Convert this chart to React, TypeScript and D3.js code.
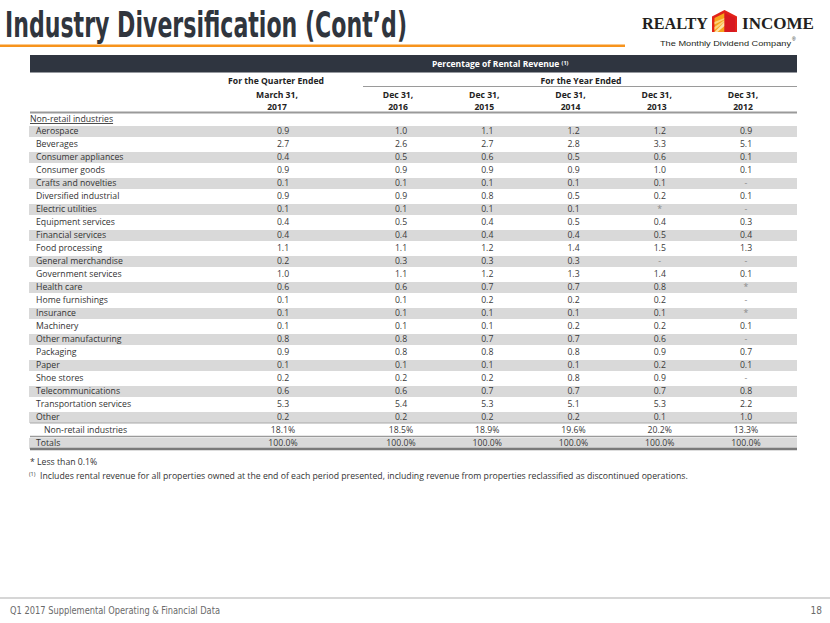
import React from "react";
import * as d3 from "d3";

const industries = [
  "Aerospace", "Beverages", "Consumer appliances", "Consumer goods", "Crafts and novelties",
  "Diversified industrial", "Electric utilities", "Equipment services", "Financial services",
  "Food processing", "General merchandise", "Government services", "Health care",
  "Home furnishings", "Insurance", "Machinery", "Other manufacturing", "Packaging", "Paper",
  "Shoe stores", "Telecommunications", "Transportation services", "Other",
];
const subtotalLabel = "Non-retail industries";
const totalLabel = "Totals";

const colQ1_2017 = ["0.9","2.7","0.4","0.9","0.1","0.9","0.1","0.4","0.4","1.1","0.2","1.0","0.6","0.1","0.1","0.1","0.8","0.9","0.1","0.2","0.6","5.3","0.2","18.1%","100.0%"];
const colY2016 = ["1.0","2.6","0.5","0.9","0.1","0.9","0.1","0.5","0.4","1.1","0.3","1.1","0.6","0.1","0.1","0.1","0.8","0.8","0.1","0.2","0.6","5.4","0.2","18.5%","100.0%"];
const colY2015 = ["1.1","2.7","0.6","0.9","0.1","0.8","0.1","0.4","0.4","1.2","0.3","1.2","0.7","0.2","0.1","0.1","0.7","0.8","0.1","0.2","0.7","5.3","0.2","18.9%","100.0%"];
const colY2014 = ["1.2","2.8","0.5","0.9","0.1","0.5","0.1","0.5","0.4","1.4","0.3","1.3","0.7","0.2","0.1","0.2","0.7","0.8","0.1","0.8","0.7","5.1","0.2","19.6%","100.0%"];
const colY2013 = ["1.2","3.3","0.6","1.0","0.1","0.2","*","0.4","0.5","1.5","-","1.4","0.8","0.2","0.1","0.2","0.6","0.9","0.2","0.9","0.7","5.3","0.1","20.2%","100.0%"];
const colY2012 = ["0.9","5.1","0.1","0.1","-","0.1","-","0.3","0.4","1.3","-","0.1","*","-","*","0.1","-","0.7","0.1","-","0.8","2.2","1.0","13.3%","100.0%"];

const yearHeaders = ["2016", "2015", "2014", "2013", "2012"];
const yearColumns = [colY2016, colY2015, colY2014, colY2013, colY2012];

const FONT = "'Open Sans', 'Noto Sans', sans-serif";
const FS = 8.7;

export default function App() {
  const rows = [...industries, subtotalLabel, totalLabel];
  const rowKeys = rows.map((r, i) => `${i}`);
  const yRow = d3.scaleBand<string>().domain(rowKeys).range([124.5, 449.5]).paddingInner(0);
  const xYear = d3.scalePoint<string>().domain(yearHeaders).range([401, 746]);
  const xQuarter = 283;
  const left = 30, right = 797;
  const cy = (i: number) => (yRow(`${i}`) as number) + yRow.bandwidth() / 2;

  const valueColor = "#3a3a3a";
  const dimColor = "#8a8a8a";

  return (
    <svg width={830} height={623} style={{ position: "absolute", left: 0, top: 0, background: "#fff" }} fontFamily={FONT}>
      <rect x={0} y={0} width={830} height={623} fill="#fff" />
      {/* Title */}
      <text x={5} y={37} fontFamily="'Liberation Sans Narrow', 'DejaVu Sans Condensed', sans-serif" fontWeight={700} fontSize={35} fill="#30353d" textLength={402} lengthAdjust="spacingAndGlyphs">
        Industry Diversification (Cont’d)
      </text>
      <rect x={0} y={44.5} width={625} height={2.5} fill="#f7941d" />

      {/* Logo */}
      <text x={642} y={28.5} fontFamily="'Liberation Serif', 'DejaVu Serif', serif" fontWeight={700} fontSize={17} fill="#231f20" textLength={66} lengthAdjust="spacingAndGlyphs">REALTY</text>
      <g>
        <polygon points="724.5,10 737,16.5 737,32 712,32 712,16.5" fill="#e2231a" />
        <polygon points="714.5,18 724.5,13 724.5,32 714.5,32" fill="#f7a21b" />
        <polygon points="714.5,32 724.5,22 724.5,26 717.5,32" fill="#fde2a6" />
        <polygon points="714.5,27 724.5,20 724.5,22 714.5,30" fill="#fcd27a" />
        <polygon points="714.5,22 724.5,18 724.5,19.5 714.5,24.5" fill="#fcd27a" />
        <polygon points="724.5,13 735,18 735,32 724.5,32" fill="#d71920" />
      </g>
      <text x={742} y={28.5} fontFamily="'Liberation Serif', 'DejaVu Serif', serif" fontWeight={700} fontSize={17} fill="#231f20" textLength={72} lengthAdjust="spacingAndGlyphs">INCOME</text>
      <text x={660} y={46} fontFamily="'Liberation Sans', Arial, sans-serif" fontSize={8} fill="#231f20" textLength={131} lengthAdjust="spacingAndGlyphs">The Monthly Dividend Company</text>
      <text x={792} y={41} fontFamily="'Liberation Sans', Arial, sans-serif" fontSize={5} fill="#231f20">®</text>

      {/* Header bar */}
      <rect x={left} y={55} width={right - left} height={17.5} fill="#2f3540" />
      <text x={432} y={67} fontSize={8.5} fontWeight={700} fill="#fff">
        Percentage of Rental Revenue <tspan fontSize={5.5} dy={-2.5}>(1)</tspan>
      </text>

      {/* Column group headers */}
      <text x={276} y={83.5} fontSize={8.6} fontWeight={700} fill="#222" textAnchor="middle">For the Quarter Ended</text>
      <text x={581} y={83.5} fontSize={8.6} fontWeight={700} fill="#222" textAnchor="middle">For the Year Ended</text>
      <line x1={363} x2={right} y1={86.5} y2={86.5} stroke="#9a9a9a" strokeWidth={1} />

      <text x={277} y={98} fontSize={8.6} fontWeight={700} fill="#222" textAnchor="middle">March 31,</text>
      <text x={277} y={110} fontSize={8.6} fontWeight={700} fill="#222" textAnchor="middle">2017</text>
      {yearHeaders.map((yr) => (
        <g key={yr}>
          <text x={(xYear(yr) as number) - 3} y={98} fontSize={8.6} fontWeight={700} fill="#222" textAnchor="middle">Dec 31,</text>
          <text x={(xYear(yr) as number) - 3} y={110} fontSize={8.6} fontWeight={700} fill="#222" textAnchor="middle">{yr}</text>
        </g>
      ))}
      <line x1={left} x2={right} y1={112.5} y2={112.5} stroke="#9a9a9a" strokeWidth={2} />

      <text x={left} y={122} fontSize={FS} fill="#333" textDecoration="underline">Non-retail industries</text>

      {/* Row bands */}
      {rows.map((r, i) => (i % 2 === 0 ? (
        <rect key={`b${i}`} x={left - 1} y={cy(i) - 5} width={right - left + 1} height={11} fill="#d9d9d9" />
      ) : null))}

      {/* Row lines */}
      <line x1={left} x2={right} y1={423} y2={423} stroke="#a8a8a8" strokeWidth={1} />
      <line x1={left} x2={right} y1={436.5} y2={436.5} stroke="#9a9a9a" strokeWidth={1.5} />
      <line x1={left} x2={right} y1={449} y2={449} stroke="#7a7a7a" strokeWidth={2.5} />

      {/* Row labels */}
      {rows.map((r, i) => (
        <text key={`l${i}`} x={i === industries.length ? 44 : 36} y={cy(i) + 3} fontSize={FS} fill="#333">{r}</text>
      ))}

      {/* Values */}
      {colQ1_2017.map((v, i) => (
        <text key={`q${i}`} x={xQuarter} y={cy(i) + 3} fontSize={FS} fill={v === "-" || v === "*" ? dimColor : valueColor} textAnchor="middle">{v}</text>
      ))}
      {yearColumns.map((col, c) => col.map((v, i) => (
        <text key={`v${c}-${i}`} x={xYear(yearHeaders[c]) as number} y={cy(i) + 3} fontSize={FS} fill={v === "-" || v === "*" ? dimColor : valueColor} textAnchor="middle">{v}</text>
      )))}

      {/* Footnotes */}
      <text x={30} y={465} fontSize={FS} fill="#333">* Less than 0.1%</text>
      <text x={29} y={476} fontSize={5.5} fill="#333">(1)</text>
      <text x={40} y={479} fontSize={FS} fill="#333">Includes rental revenue for all properties owned at the end of each period presented, including revenue from properties reclassified as discontinued operations.</text>

      {/* Footer */}
      <rect x={0} y={597} width={830} height={2} fill="#d6d6d6" />
      <text x={10} y={614} fontFamily="'Liberation Sans Narrow', 'DejaVu Sans Condensed', sans-serif" fontSize={10} fill="#6a6a6a" textLength={210} lengthAdjust="spacingAndGlyphs">Q1 2017 Supplemental Operating &amp; Financial Data</text>
      <text x={822} y={614} fontFamily="'Liberation Sans Narrow', 'DejaVu Sans Condensed', sans-serif" fontSize={10} fill="#6a6a6a" textAnchor="end">18</text>
    </svg>
  );
}
